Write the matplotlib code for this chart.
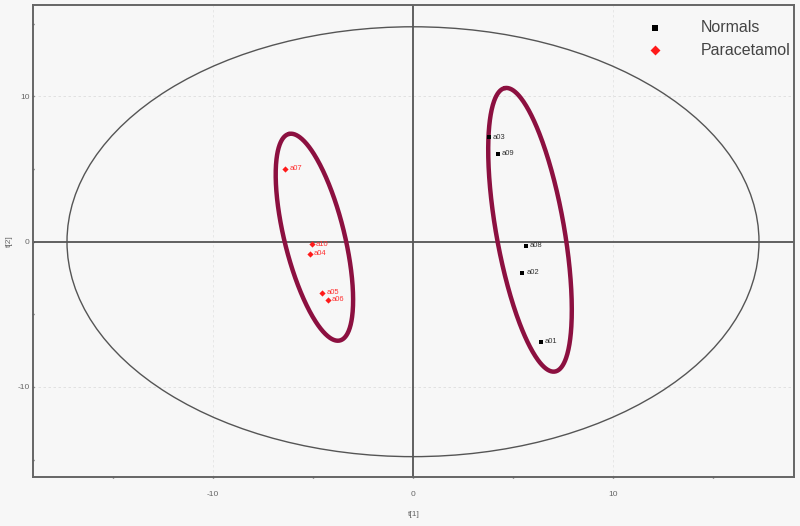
import numpy as np
import matplotlib
matplotlib.use("Agg")
import matplotlib.pyplot as plt
from matplotlib.patches import Ellipse
from matplotlib.ticker import MultipleLocator

plt.rcParams['font.family'] = ['Liberation Sans', 'DejaVu Sans']
plt.rcParams['axes.unicode_minus'] = False

# Scores
normals_names = ["a03", "a09", "a08", "a02", "a01"]
normals_t1 = [3.8, 4.23, 5.65, 5.47, 6.4]
normals_t2 = [7.2, 6.05, -0.27, -2.15, -6.9]

para_names = ["a07", "a10", "a04", "a05", "a06"]
para_t1 = [-6.38, -5.05, -5.17, -4.53, -4.25]
para_t2 = [5.04, -0.18, -0.82, -3.5, -4.0]

# Hotelling T2 ellipse semi-axes
hotelling_a = 17.3
hotelling_b = 14.8

# Group ellipses: center, major half-vector, minor half-vector (data units)
group_centers = [(-4.93, 0.31), (5.85, 0.82)]
group_major = [(-1.275, 7.11), (-1.25, 9.76)]
group_minor = [(1.456, 0.495), (1.675, 0.405)]

bg = "#f7f7f7"
fig = plt.figure(figsize=(8, 5.26), dpi=100, facecolor=bg)
ax = fig.add_axes([0.04125, 0.0932, 0.95125, 0.8973])
ax.set_facecolor(bg)
ax.set_xlim(-19, 19.05)
ax.set_ylim(-16.2, 16.3)

# light dashed grid at major ticks
for v in [-10, 10]:
    ax.axhline(v, color="#dddddd", lw=0.6, ls=(0, (3, 3)), zorder=0)
    ax.axvline(v, color="#e4e4e4", lw=0.6, ls=(0, (3, 3)), zorder=0)

ax.axhline(0, color="#555555", lw=1.3, zorder=1)
ax.axvline(0, color="#555555", lw=1.3, zorder=1)

ax.add_patch(Ellipse((0, 0), 2 * hotelling_a, 2 * hotelling_b, fill=False,
                     edgecolor="#555555", lw=1.0, zorder=2))

t = np.linspace(0, 2 * np.pi, 400)
for c, A, B in zip(group_centers, group_major, group_minor):
    xs = c[0] + A[0] * np.cos(t) + B[0] * np.sin(t)
    ys = c[1] + A[1] * np.cos(t) + B[1] * np.sin(t)
    ax.plot(xs, ys, color="#8c1040", lw=3.2, zorder=3, solid_capstyle="round")

ax.scatter(normals_t1, normals_t2, marker="s", s=9, color="black", zorder=5,
           label="Normals", linewidths=0)
ax.scatter(para_t1, para_t2, marker="D", s=10, color="#ff1a1a", zorder=5,
           label="Paracetamol", linewidths=0)

for n, x, y in zip(normals_names, normals_t1, normals_t2):
    ax.text(x + 0.2, y, n, fontsize=5.5, color="#333333", va="center", ha="left", zorder=6)
for n, x, y in zip(para_names, para_t1, para_t2):
    ax.text(x + 0.2, y, n, fontsize=5.5, color="#ff3030", va="center", ha="left", zorder=6)

for s in ax.spines.values():
    s.set_color("#666666")
    s.set_linewidth(1.4)

ax.xaxis.set_major_locator(MultipleLocator(10))
ax.xaxis.set_minor_locator(MultipleLocator(5))
ax.yaxis.set_major_locator(MultipleLocator(10))
ax.yaxis.set_minor_locator(MultipleLocator(5))
ax.tick_params(which="both", length=2, width=1.0, color="#444444", direction="inout",
               labelsize=6, labelcolor="#666666")
ax.tick_params(axis="x", pad=9)
ax.tick_params(axis="y", pad=1.5)
ax.set_xlabel("t[1]", fontsize=6, color="#666666")
ax.set_ylabel("t[2]", fontsize=6, color="#666666")
ax.xaxis.set_label_coords(0.5, -0.073)
ax.yaxis.set_label_coords(-0.027, 0.5)

leg = ax.legend(loc="upper right", bbox_to_anchor=(1.0, 0.974), frameon=False,
                fontsize=11.5, labelcolor="#444444", handletextpad=2.4,
                markerscale=1.6, borderaxespad=0.0, borderpad=0.2,
                labelspacing=0.45, handlelength=1.0)

fig.savefig("out.png", dpi=100, facecolor=bg)
